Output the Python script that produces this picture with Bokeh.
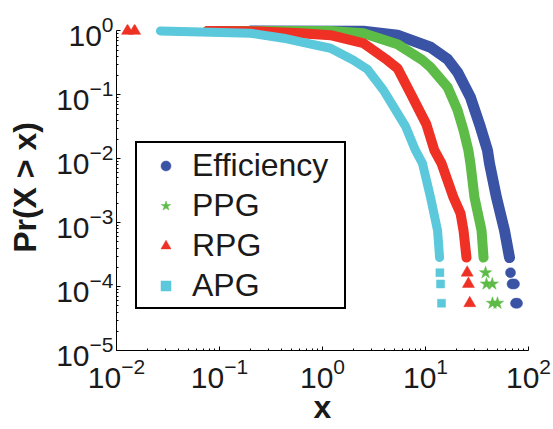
from bokeh.plotting import figure
from bokeh.models import FixedTicker, Legend, LegendItem, Range1d
from bokeh.embed import file_html
from bokeh.resources import INLINE

# ---------------- data ----------------
# dense part of each CCDF (drawn as a thick band)
eff_band_x = [0.20, 2.50, 5.35, 11.2, 16.4, 20.5, 27.3, 34.2, 40.0, 41.8, 48.9, 58.5, 65.4]
eff_band_y = [1.0, 0.99, 0.857, 0.555, 0.360, 0.225, 0.0914, 0.031, 0.0135, 0.00844, 0.00247, 7.52e-4, 2.84e-4]
eff_pts_x = [66.9, 69.2, 73.1, 74.8, 78.2]
eff_pts_y = [1.65e-4, 1.10e-4, 1.10e-4, 5.49e-5, 5.49e-5]

ppg_band_x = [0.0764, 1.196, 2.50, 5.35, 9.3, 11.2, 16.4, 20.5, 23.4, 26.1, 27.3, 29.9, 35.0, 36.6]
ppg_band_y = [1.0, 1.0, 0.92, 0.619, 0.35, 0.27, 0.131, 0.0572, 0.0278, 0.0135, 0.00844, 0.00247, 7.52e-4, 2.84e-4]
ppg_pts_x = [38.3, 39.1, 44.5, 44.7, 50.0]
ppg_pts_y = [1.65e-4, 1.10e-4, 1.10e-4, 5.49e-5, 5.49e-5]

rpg_band_x = [0.0764, 0.20, 0.611, 1.196, 2.50, 4.28, 5.35, 7.15, 10.2, 12.2, 14.3, 18.7, 21.9, 23.4, 25.0]
rpg_band_y = [1.0, 0.99, 0.92, 0.857, 0.641, 0.347, 0.26, 0.1056, 0.0345, 0.0135, 0.00844, 0.00247, 0.00139, 7.52e-4, 2.84e-4]
rpg_pts_x = [0.0128, 0.0150, 25.4, 26.1, 26.9]
rpg_pts_y = [1.0, 1.0, 1.65e-4, 1.10e-4, 5.49e-5]

apg_band_x = [0.0267, 0.0655, 0.20, 0.418, 0.611, 1.196, 2.00, 2.73, 3.91, 6.40, 8.00, 9.35, 11.2, 13.1, 13.7]
apg_band_y = [1.0, 0.964, 0.92, 0.769, 0.672, 0.535, 0.347, 0.251, 0.118, 0.0321, 0.0135, 0.00844, 0.00247, 7.52e-4, 2.84e-4]
apg_pts_x = [13.8, 14.0, 14.3]
apg_pts_y = [1.65e-4, 1.10e-4, 5.49e-5]

series_names = ["Efficiency", "PPG", "RPG", "APG"]
x_tick_vals = [1e-2, 1e-1, 1e0, 1e1, 1e2]
y_tick_vals = [1e-5, 1e-4, 1e-3, 1e-2, 1e-1, 1e0]
x_title = "x"
y_title = "Pr(X > x)"

# ---------------- styling ----------------
FONT = "Liberation Sans"
TXT = "#1a1a1a"
colors = ["#3A53A4", "#5DBB47", "#EE3124", "#5BC8DB"]
markers = ["circle", "star", "triangle", "square"]
msizes = [10, 13, 12, 8]
band_widths = [11, 10, 10, 9]

p = figure(width=553, height=429, x_axis_type="log", y_axis_type="log",
           x_range=Range1d(1e-2, 1e2), y_range=Range1d(1e-5, 10 ** 0.1),
           output_backend="svg", toolbar_location=None,
           min_border_left=116, min_border_right=25,
           min_border_top=24, min_border_bottom=79)
p.outline_line_color = None
p.grid.visible = False
p.background_fill_color = "white"
p.border_fill_color = "white"

decades_x = [-2, -1, 0, 1]
decades_y = [-5, -4, -3, -2, -1]
p.xaxis.ticker = FixedTicker(ticks=x_tick_vals,
                             minor_ticks=[m * 10.0 ** e for e in decades_x for m in range(2, 10)])
p.yaxis.ticker = FixedTicker(ticks=y_tick_vals,
                             minor_ticks=[m * 10.0 ** e for e in decades_y for m in range(2, 10)])
p.yaxis.bounds = (1e-5, 1.0)
for ax in (p.xaxis[0], p.yaxis[0]):
    ax.axis_line_color = "black"
    ax.axis_line_width = 1
    ax.major_tick_in = 4
    ax.major_tick_out = 0
    ax.minor_tick_in = 2
    ax.minor_tick_out = 0
    ax.major_tick_line_color = "black"
    ax.minor_tick_line_color = "black"
    ax.major_label_text_font = FONT
    ax.major_label_text_font_size = "30px"
    ax.major_label_text_color = TXT
    ax.axis_label_text_font = FONT
    ax.axis_label_text_font_size = "32px"
    ax.axis_label_text_font_style = "bold"
    ax.axis_label_text_color = TXT

p.xaxis.major_label_standoff = 7
p.yaxis.major_label_standoff = 3
p.xaxis.axis_label = x_title
p.yaxis.axis_label = y_title
p.xaxis.axis_label_standoff = -2
p.yaxis.axis_label_standoff = 10

bands = [(eff_band_x, eff_band_y), (ppg_band_x, ppg_band_y),
         (rpg_band_x, rpg_band_y), (apg_band_x, apg_band_y)]
pts = [(eff_pts_x, eff_pts_y), (ppg_pts_x, ppg_pts_y),
       (rpg_pts_x, rpg_pts_y), (apg_pts_x, apg_pts_y)]

legend_items = []
for i in range(4):
    bx, by = bands[i]
    p.line(bx, by, line_color=colors[i], line_width=band_widths[i],
           line_cap="round", line_join="round")
    mx, my = pts[i]
    r = p.scatter(mx, my, marker=markers[i], size=msizes[i],
                  fill_color=colors[i], line_color=colors[i], line_width=0.5)
    legend_items.append(LegendItem(label=series_names[i], renderers=[r]))

legend = Legend(items=legend_items, location=(19, 41), padding=2, spacing=0,
                glyph_width=53, glyph_height=25, label_standoff=0,
                label_width=150, label_height=40,
                label_text_font_size="32px", label_text_font=FONT,
                label_text_color=TXT,
                border_line_color="black", border_line_width=2, border_line_alpha=1.0,
                background_fill_color="white", background_fill_alpha=1.0,
                margin=0)
p.add_layout(legend)

open("out.html", "w").write(file_html(p, INLINE))
